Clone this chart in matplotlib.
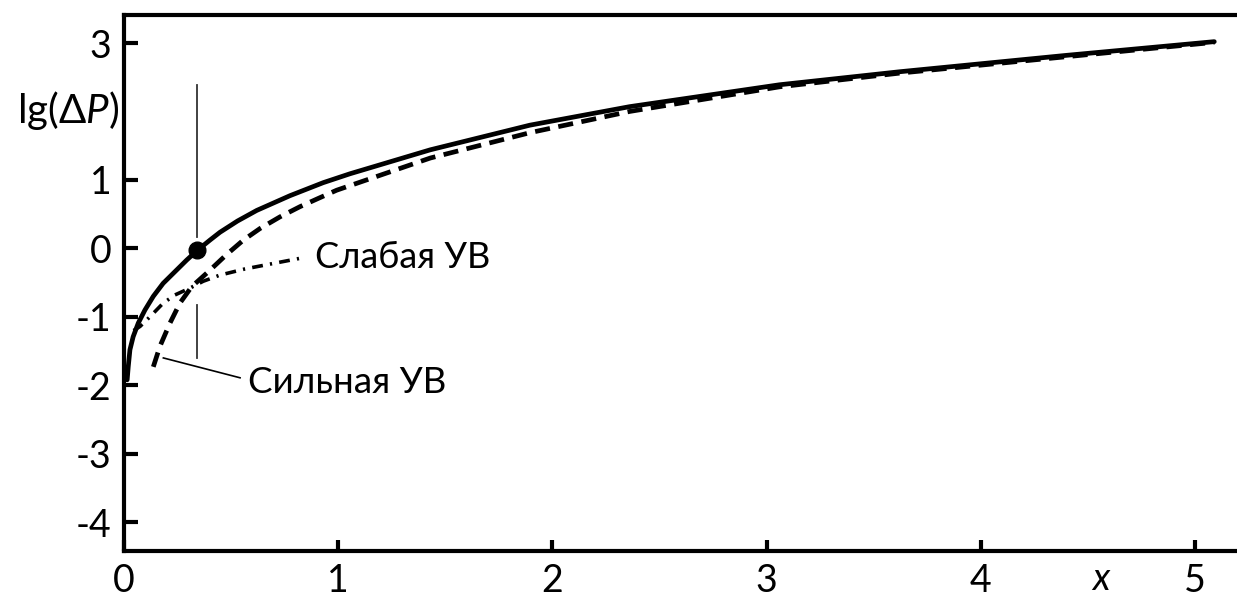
import matplotlib.pyplot as plt

plt.rcParams['font.family'] = ['Lato', 'DejaVu Sans']
plt.rcParams['mathtext.fontset'] = 'custom'
plt.rcParams['mathtext.rm'] = 'Lato'
plt.rcParams['mathtext.it'] = 'Lato:italic'

# solid curve
x_main = [0.015, 0.020, 0.028, 0.043, 0.067, 0.098, 0.137, 0.183, 0.238, 0.293,
          0.342, 0.401, 0.448, 0.53, 0.62, 0.775, 0.93, 1.055, 1.43, 1.895, 2.36,
          3.06, 3.62, 4.40, 5.09]
y_main = [-1.92, -1.73, -1.48, -1.29, -1.09, -0.90, -0.70, -0.51, -0.34, -0.17,
          -0.03, 0.12, 0.235, 0.40, 0.555, 0.77, 0.96, 1.09, 1.44, 1.80, 2.07,
          2.39, 2.58, 2.82, 3.02]

# strong shock wave (dashed)
x_strong = [0.137, 0.168, 0.215, 0.261, 0.316, 0.394, 0.479, 0.557, 0.635, 0.728,
            0.822, 0.907, 0.993, 1.43, 1.895, 2.36, 3.06, 3.62, 4.40, 5.09]
y_strong = [-1.73, -1.43, -1.09, -0.80, -0.56, -0.34, -0.09, 0.12, 0.29, 0.46,
            0.61, 0.73, 0.85, 1.32, 1.69, 2.00, 2.36, 2.56, 2.80, 3.01]

# weak shock wave (dash-dot)
x_weak = [0.045, 0.075, 0.121, 0.183, 0.238, 0.308, 0.370, 0.448, 0.565, 0.697, 0.83]
y_weak = [-1.20, -1.14, -1.00, -0.80, -0.68, -0.58, -0.48, -0.39, -0.30, -0.22, -0.14]

x_ticks = [0, 1, 2, 3, 4, 5]
y_ticks = [-4, -3, -2, -1, 0, 1, 3]
y_tick_labels = ['-4', '-3', '-2', '-1', '0', '1', '3']

x_dot, y_dot = 0.342, -0.03

fig = plt.figure(figsize=(12.37, 5.98), dpi=100)
ax = fig.add_axes([0.1002, 0.0786, 0.8998, 0.8964])

ax.plot(x_main, y_main, color='black', lw=3.4, solid_capstyle='round',
        solid_joinstyle='round')
ax.plot(x_strong, y_strong, color='black', lw=3.4, dashes=(3.2, 1.8))
ax.plot(x_weak, y_weak, color='black', lw=2.6, dashes=(3.0, 2.0, 0.6, 2.0))
ax.plot([x_dot], [y_dot], 'o', color='black', ms=12)

# thin vertical marker line, broken where curves cross
ax.plot([x_dot, x_dot], [2.39, 0.17], color='#333333', lw=1.3)
ax.plot([x_dot, x_dot], [-0.82, -1.60], color='#333333', lw=1.3)

# labels
ax.text(0.892, -0.14, 'Слабая УВ', fontsize=26, va='center', ha='left')
ax.plot([0.184, 0.542], [-1.60, -1.89], color='black', lw=1.2)
ax.text(0.579, -1.96, 'Сильная УВ', fontsize=26.5, va='center', ha='left')

ax.set_xlim(0, 5.196)
ax.set_ylim(-4.42, 3.41)
ax.set_xticks(x_ticks)
ax.set_xticklabels([str(t) for t in x_ticks])
ax.set_yticks(y_ticks)
ax.set_yticklabels(y_tick_labels)
ax.tick_params(direction='in', width=3, labelsize=27, pad=9)
ax.tick_params(axis='y', length=10)
ax.tick_params(axis='x', length=8)
for s in ['left', 'bottom', 'top']:
    ax.spines[s].set_linewidth(3)
ax.spines['right'].set_visible(False)

ax.text(-0.004, 2.02, r'lg($\Delta P$)', transform=ax.get_yaxis_transform(),
        fontsize=29, ha='right', va='center')
ax.text(4.56, -0.052, 'x', style='italic', fontsize=27,
        transform=ax.get_xaxis_transform(), ha='center', va='center')

fig.savefig('out.png', dpi=100)
